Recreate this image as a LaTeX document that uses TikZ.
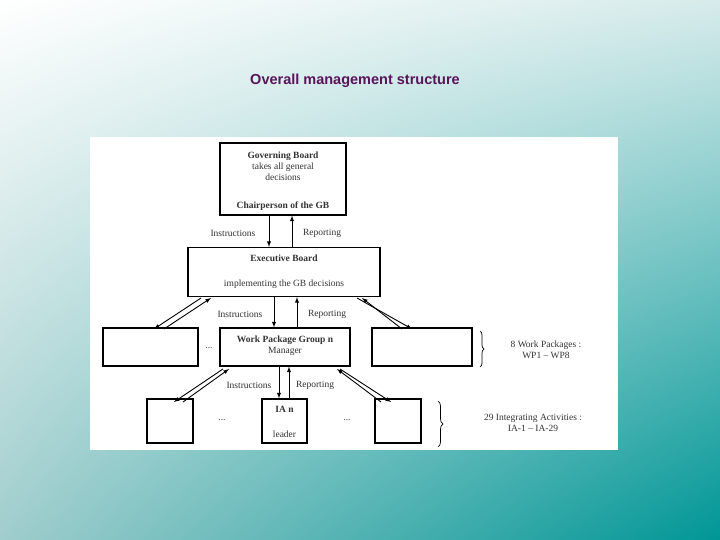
\documentclass[tikz,border=0pt]{standalone}
\usepackage{fontspec}
\setmainfont{Liberation Serif}
\newfontfamily\ttlfont{Liberation Sans}
\usetikzlibrary{decorations.pathreplacing,shadings}
\definecolor{teal1}{RGB}{0,150,150}
\definecolor{lt1}{RGB}{215,235,235}
\definecolor{lt2}{RGB}{160,205,205}
\definecolor{ttl}{RGB}{90,20,90}
\begin{document}
\begin{tikzpicture}[x=1pt,y=-1pt,
 bx/.style={draw,line width=1.1pt,inner sep=0pt},
 lb/.style={font=\fontsize{9.5}{11}\selectfont,text=black!80},
 ar/.style={-latex,line width=0.9pt}]
\shade[upper left=white,upper right=lt1,lower left=lt2,lower right=teal1] (0,0) rectangle (720,540);
\useasboundingbox (0,0) rectangle (720,540);
\node[font=\ttlfont\bfseries\fontsize{14.5}{16}\selectfont,text=ttl] (title) at (355,81) {Overall management structure};
\fill[white] (90,137) rectangle (618,450);
% boxes
\node[bx,minimum width=126pt,minimum height=72pt] (gb) at (283,179) {};
\node[lb,align=center] (gbt) at (283,166) {\textbf{Governing Board}\\takes all general\\decisions};
\node[lb,font=\bfseries\fontsize{9.5}{11}\selectfont] (gbc) at (283,206) {Chairperson of the GB};
\node[bx,minimum width=192pt,minimum height=49pt] (eb) at (284,272) {};
\node[lb,font=\bfseries\fontsize{9.5}{11}\selectfont] (ebt) at (284,258) {Executive Board};
\node[lb] (ebs) at (284,284) {implementing the GB decisions};
\node[bx,minimum width=130pt,minimum height=38pt] (wpg) at (285,347) {};
\node[lb,align=center] (wpgt) at (285,346) {\textbf{Work Package Group n}\\Manager};
\node[bx,minimum width=95pt,minimum height=38pt] (wl) at (150.5,347) {};
\node[bx,minimum width=100pt,minimum height=38pt] (wr) at (422,347) {};
\node[bx,minimum width=46pt,minimum height=44pt] (il) at (170,421) {};
\node[bx,minimum width=45pt,minimum height=44pt] (in) at (284.5,421) {};
\node[lb,font=\bfseries\fontsize{9.5}{11}\selectfont] (int) at (284.5,409) {IA n};
\node[lb] (inl) at (284.5,434) {leader};
\node[bx,minimum width=46pt,minimum height=44pt] (ir) at (398,421) {};
% vertical arrows
\draw[ar] (gb.south -| 269,0) -- (eb.north -| 269,0);
\draw[ar] (eb.north -| 292,0) -- (gb.south -| 292,0);
\draw[ar] (eb.south -| 274,0) -- (wpg.north -| 274,0);
\draw[ar] (wpg.north -| 297,0) -- (eb.south -| 297,0);
\draw[ar] (wpg.south -| 279,0) -- (in.north -| 279,0);
\draw[ar] (in.north -| 289,0) -- (wpg.south -| 289,0);
% diagonal arrows
\coordinate (a1) at (201,298); \coordinate (a2) at (154,329);
\coordinate (a3) at (164,329); \coordinate (a4) at (211,298);
\draw[ar] (a1) -- (a2); \draw[ar] (a3) -- (a4);
\coordinate (b1) at (357,298); \coordinate (b2) at (412,329);
\coordinate (b3) at (402,329); \coordinate (b4) at (362,298);
\draw[ar] (b1) -- (b2); \draw[ar] (b3) -- (b4);
\coordinate (c1) at (223,369); \coordinate (c2) at (174,402);
\coordinate (c3) at (183,402); \coordinate (c4) at (229,369);
\draw[ar] (c1) -- (c2); \draw[ar] (c3) -- (c4);
\coordinate (d1) at (340,369); \coordinate (d2) at (391,402);
\coordinate (d3) at (381,402); \coordinate (d4) at (337,369);
\draw[ar] (d1) -- (d2); \draw[ar] (d3) -- (d4);
% labels
\node[lb] (l1) at (233,233) {Instructions};
\node[lb] (l2) at (322,233) {Reporting};
\node[lb] (l3) at (240,314) {Instructions};
\node[lb] (l4) at (327,314) {Reporting};
\node[lb] (l5) at (249,385) {Instructions};
\node[lb] (l6) at (315,385) {Reporting};
\node[lb] (e1) at (209,348) {...};
\node[lb] (e2) at (222,420) {...};
\node[lb] (e3) at (347,420) {...};
% braces
\draw[decorate,decoration={brace,amplitude=4pt},line width=0.7pt] (480,331) -- (480,367);
\draw[decorate,decoration={brace,amplitude=5pt},line width=0.7pt] (438,401) -- (438,447);
\node[lb,align=center] (t1) at (546,350) {8 Work Packages :\\WP1 -- WP8};
\node[lb,align=center] (t2) at (533,423) {29 Integrating Activities :\\IA-1 -- IA-29};
\end{tikzpicture}
\end{document}
